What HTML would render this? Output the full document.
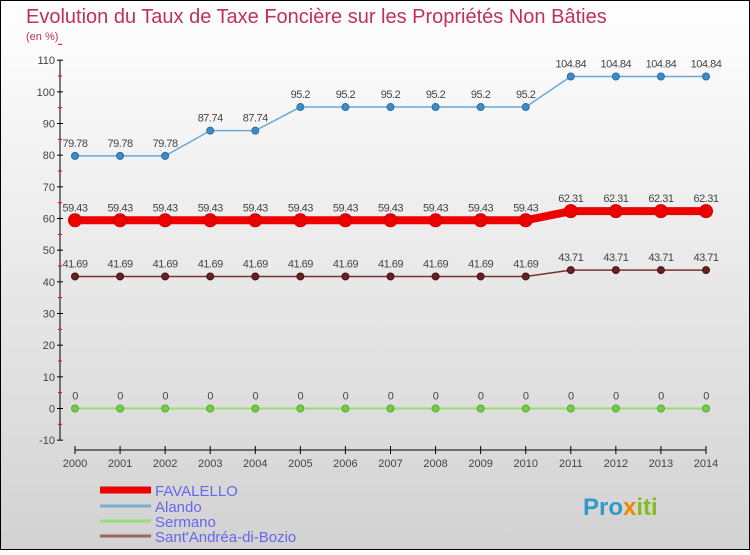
<!DOCTYPE html>
<html><head><meta charset="utf-8"><style>
body{margin:0;width:750px;height:550px;overflow:hidden;font-family:"Liberation Sans",sans-serif}
</style></head><body>
<svg width="750" height="550" xmlns="http://www.w3.org/2000/svg">
<defs><linearGradient id="bg" x1="0" y1="0" x2="0" y2="1"><stop offset="0" stop-color="#ffffff"/><stop offset="1" stop-color="#d2d2d2"/></linearGradient></defs>
<rect x="0.5" y="0.5" width="749" height="549" fill="url(#bg)" stroke="#000"/>
<text x="26" y="23" font-size="20" fill="#c0305a">Evolution du Taux de Taxe Foncière sur les Propriétés Non Bâties</text>
<text x="26" y="40" font-size="11" fill="#c0305a">(en %)</text>
<g id="axes"></g><g id="series"></g><g id="legend"></g>
<text x="583" y="515" font-size="24" font-weight="bold" fill="#3399cc">Pro<tspan fill="#ee8800">x</tspan><tspan fill="#88bb22">iti</tspan></text>
</svg>
<script>
const years=[2000,2001,2002,2003,2004,2005,2006,2007,2008,2009,2010,2011,2012,2013,2014];
const yTicks=[-10,0,10,20,30,40,50,60,70,80,90,100,110];
const favalello=[59.43,59.43,59.43,59.43,59.43,59.43,59.43,59.43,59.43,59.43,59.43,62.31,62.31,62.31,62.31];
const alando=[79.78,79.78,79.78,87.74,87.74,95.2,95.2,95.2,95.2,95.2,95.2,104.84,104.84,104.84,104.84];
const sermano=[0,0,0,0,0,0,0,0,0,0,0,0,0,0,0];
const santAndrea=[41.69,41.69,41.69,41.69,41.69,41.69,41.69,41.69,41.69,41.69,41.69,43.71,43.71,43.71,43.71];
const NS="http://www.w3.org/2000/svg";
const X=i=>75+i*(706-75)/(years.length-1);
const Y=v=>408.5-v*(380/120);
function mk(t,a,p){const e=document.createElementNS(NS,t);for(const k in a)e.setAttribute(k,a[k]);p.appendChild(e);return e;}
const ax=document.getElementById('axes');
let l=mk('line',{x1:60,y1:Y(110),x2:60,y2:Y(-10),stroke:'#000'},ax);


yTicks.forEach(v=>{
 mk('line',{x1:57,x2:63,y1:Y(v),y2:Y(v),stroke:'#000'},ax);
 mk('line',{x1:58,x2:62,y1:Y(v+5),y2:Y(v+5),stroke:'#e00'},ax);
 const t=mk('text',{x:55,y:Y(v)+4,'font-size':11,fill:'#444','text-anchor':'end'},ax);
 t.textContent=v;
 
 
});
l=mk('line',{x1:X(0),x2:X(years.length-1),y1:450,y2:450,stroke:'#000'},ax);


years.forEach((y,i)=>{
 mk('line',{x1:X(i),x2:X(i),y1:446,y2:454,stroke:'#000'},ax);
 const t=mk('text',{x:X(i),y:467,'font-size':11,fill:'#444','text-anchor':'middle'},ax);
 t.textContent=y;
 
 
});
const sg=document.getElementById('series');
function series(name,vals,color,w,r,dot,dotStroke){
 const g=mk('g',{},sg);
 
 
 const p=mk('polyline',{points:vals.map((v,i)=>X(i)+','+Y(v)).join(' '),fill:'none',stroke:color,'stroke-width':w},g);
 
 
 vals.forEach((v,i)=>{
  const c=mk('circle',{cx:X(i),cy:Y(v),r:r,fill:dot,stroke:dotStroke,'stroke-width':1},g);
  
  
  const t=mk('text',{x:X(i),y:Y(v)-9,'font-size':11,fill:'#444','text-anchor':'middle','letter-spacing':'-0.5'},g);
  t.textContent=v;
  
  
 });
}
series('alando',alando,'#6aa8d8',1.5,3.5,'#3d8cc8','#2a6fa0');
series('sermano',sermano,'#99dd77',2,3.5,'#77cc44','#55aa33');
series('sant-andrea',santAndrea,'#773333',1.5,3.5,'#662222','#441111');
series('favalello',favalello,'#ee0000',8,6.5,'#ee0000','#cc0000');
const lg=document.getElementById('legend');
[['FAVALELLO','#ee0000',7,492],['Alando','#7aaed0',3,508],['Sermano','#99dd77',3,523],["Sant'Andréa-di-Bozio",'#996666',3,538]].forEach(([n,c,w,y])=>{
 const g=mk('g',{},lg);
 
 
 mk('line',{x1:100,x2:151,y1:y-2,y2:y-2,stroke:c,'stroke-width':w},g);
 const t=mk('text',{x:155,y:y+4,'font-size':15,fill:'#6666ee'},g);
 t.textContent=n;
});
</script>
</body></html>
